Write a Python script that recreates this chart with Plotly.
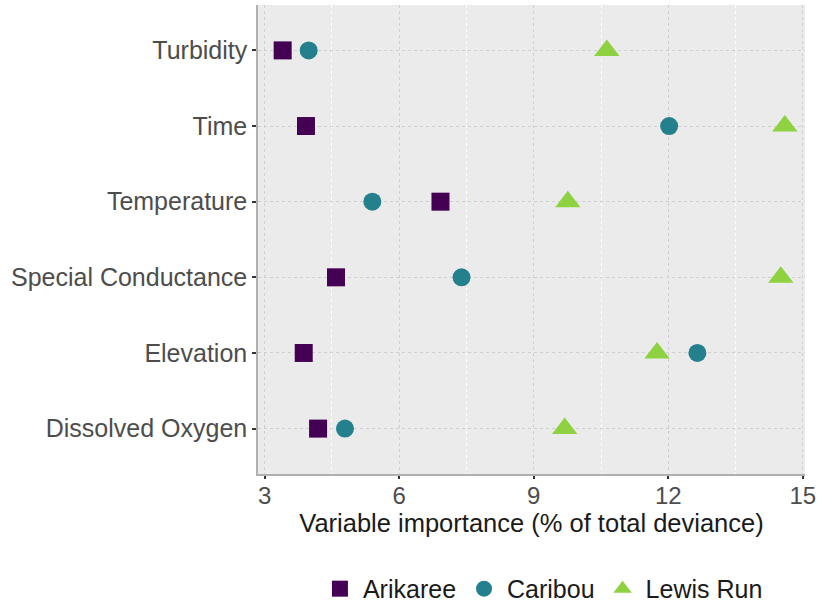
import plotly.graph_objects as go

# variables, listed bottom to top as they appear on the y axis
variables = ["Dissolved Oxygen", "Elevation", "Special Conductance",
             "Temperature", "Time", "Turbidity"]

# variable importance (% of total deviance) per site
arikaree = [4.19, 3.87, 4.59, 6.92, 3.92, 3.40]
caribou = [4.79, 12.65, 7.39, 5.40, 12.02, 3.98]
lewis_run = [9.69, 11.75, 14.51, 9.76, 14.60, 10.63]

x_ticks = [3, 6, 9, 12, 15]

sites = [
    ("Arikaree", arikaree, "#440154", "square", 18),
    ("Caribou", caribou, "#24808D", "circle", 18),
    ("Lewis Run", lewis_run, "#8ED141", "triangle-up", 22),
]

fig = go.Figure()
for name, vals, color, symbol, size in sites:
    fig.add_trace(go.Scatter(
        x=vals,
        y=variables,
        mode="markers",
        name=name,
        marker=dict(symbol=symbol, size=size, color=color, line=dict(width=0)),
    ))

fig.update_layout(
    width=818,
    height=606,
    margin=dict(l=258, r=13, t=5, b=132, autoexpand=False),
    plot_bgcolor="#EBEBEB",
    paper_bgcolor="white",
    font=dict(family="Liberation Sans, Arial, sans-serif", size=24, color="#4D4D4D"),
    showlegend=True,
    legend=dict(
        orientation="h",
        x=0.52, xanchor="center",
        y=-0.245, yanchor="middle",
        font=dict(size=25, color="#1A1A1A"),
        itemwidth=36,
    ),
)

fig.update_xaxes(
    range=[2.85, 15.05],
    tickvals=x_ticks,
    ticks="outside", ticklen=3, tickcolor="#333333", tickwidth=1.5,
    ticklabelstandoff=-4,
    showgrid=True, gridcolor="#D0D0D0", griddash="dot", gridwidth=1,
    minor=dict(dtick=3, tick0=4.5, showgrid=True, gridcolor="white", gridwidth=1.2),
    zeroline=False,
    showline=True, linecolor="#B0B0B0", linewidth=1.5,
    title=dict(text="Variable importance (% of total deviance)",
               font=dict(size=25.5, color="#1A1A1A"), standoff=0),
    tickfont=dict(size=24, color="#4D4D4D"),
)

fig.update_yaxes(
    type="category",
    categoryorder="array", categoryarray=variables,
    range=[-0.6, 5.6],
    ticks="outside", ticklen=4, tickcolor="#333333", tickwidth=1.5,
    showgrid=True, gridcolor="#D0D0D0", griddash="dot", gridwidth=1,
    zeroline=False,
    showline=True, linecolor="#B0B0B0", linewidth=1.5,
    tickfont=dict(size=25, color="#4D4D4D"),
)

fig.write_html("out.html", config={"displayModeBar": False},
               post_script="document.body.style.margin='0';")
